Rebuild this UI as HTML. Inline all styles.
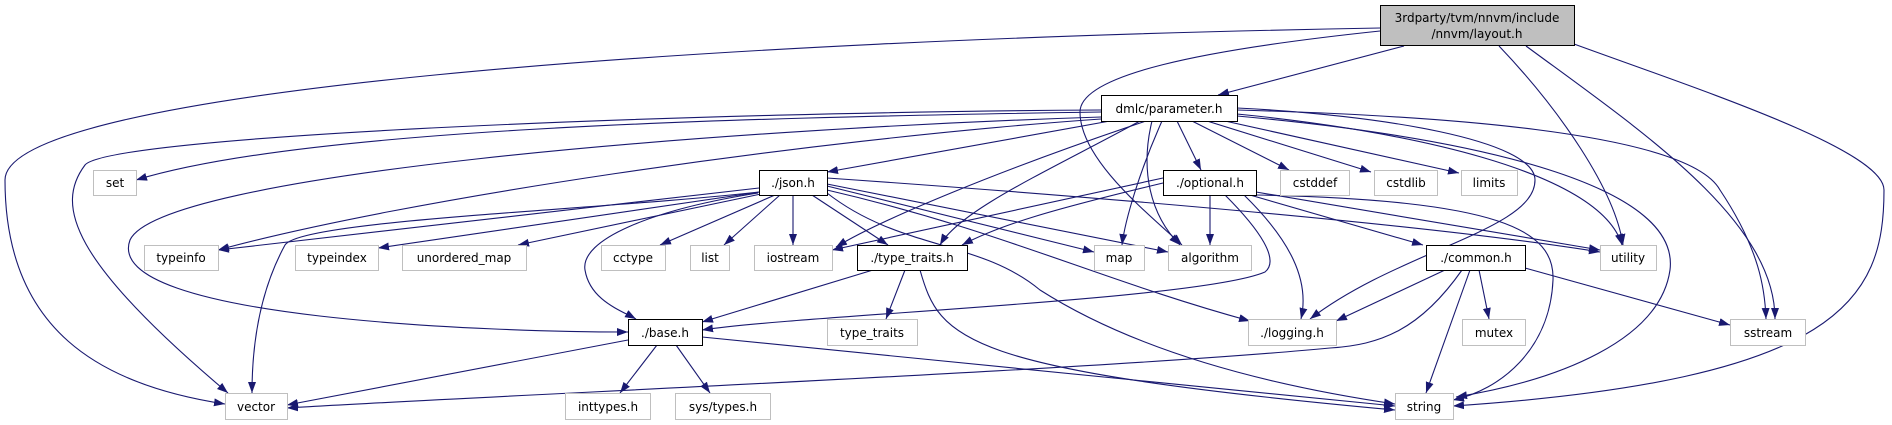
<!DOCTYPE html>
<html><head><meta charset="utf-8"><style>
html,body{margin:0;padding:0;background:#fff;}
svg{display:block;}
text{font-family:"DejaVu Sans","Liberation Sans",sans-serif;font-size:12px;fill:#000;}
</style></head><body>
<svg width="1892" height="425" viewBox="0 0 1892 425" xmlns="http://www.w3.org/2000/svg">
<defs>
<marker id="a" markerUnits="userSpaceOnUse" markerWidth="12" markerHeight="10" refX="11" refY="4" orient="auto">
<path d="M0,0 L11,4 L0,8 z" fill="#191970"/>
</marker>
</defs>
<g fill="none" stroke="#191970" stroke-width="1.1" marker-end="url(#a)">
<!-- layout -->
<path d="M1380,28 C700,40 5,90 5,180 C5,330 100,385 225,404"/>
<path d="M1404,46 L1218,95"/>
<path d="M1380,31 C1200,50 1080,75 1080,112 C1080,160 1150,215 1182,245"/>
<path d="M1499,46 C1560,110 1615,190 1623,245"/>
<path d="M1526,46 C1640,130 1775,220 1775,319"/>
<path d="M1574,44 C1700,90 1884,150 1884,190 C1884,300 1840,380 1453,406"/>
<!-- parameter -->
<path d="M1101,110 C700,112 110,135 85,165 C55,205 70,260 228,393"/>
<path d="M1101,112 C700,118 300,130 136,180"/>
<path d="M1101,117 C700,130 160,175 130,240 C100,320 500,332 628,332"/>
<path d="M1101,119 C800,140 400,200 218,250"/>
<path d="M1110,121 L827,172"/>
<path d="M1140,121 C1050,170 960,210 940,245"/>
<path d="M1146,121 C1000,170 880,220 836,247"/>
<path d="M1162,121 C1140,170 1125,220 1122,245"/>
<path d="M1152,121 C1140,170 1150,215 1180,245"/>
<path d="M1177,121 L1201,170"/>
<path d="M1192,121 L1289,170"/>
<path d="M1207,121 L1371,172"/>
<path d="M1225,121 L1459,173"/>
<path d="M1237,114 C1400,130 1600,170 1622,245"/>
<path d="M1237,108 C1380,115 1535,140 1535,180 C1535,230 1400,250 1310,319"/>
<path d="M1237,110 C1420,115 1687,130 1720,190 C1760,250 1765,290 1766,319"/>
<path d="M1237,116 C1500,140 1680,190 1670,270 C1660,340 1560,380 1456,397"/>
<!-- json -->
<path d="M759,188 L218,250"/>
<path d="M759,192 C600,210 300,220 285,245 C255,300 252,360 252,393"/>
<path d="M760,192 L378,248"/>
<path d="M761,194 L518,245"/>
<path d="M758,193 C650,210 580,240 585,270 C590,300 620,310 636,319"/>
<path d="M775,195 L660,245"/>
<path d="M780,195 L724,245"/>
<path d="M793,195 L793,245"/>
<path d="M812,195 L888,245"/>
<path d="M827,186 L1094,252"/>
<path d="M827,184 L1168,252"/>
<path d="M827,178 C1000,190 1400,220 1600,252"/>
<path d="M827,190 C1000,230 1100,280 1250,321"/>
<path d="M827,193 C900,250 980,240 1040,290 C1150,360 1300,390 1395,404"/>
<!-- optional -->
<path d="M1163,178 L832,250"/>
<path d="M1163,183 C1050,210 1000,225 962,245"/>
<path d="M1225,195 C1260,230 1280,260 1265,272 C1200,300 800,315 702,330"/>
<path d="M1210,195 L1210,245"/>
<path d="M1244,195 C1290,240 1310,280 1301,319"/>
<path d="M1250,195 L1423,245"/>
<path d="M1256,192 L1600,250"/>
<path d="M1256,195 C1500,200 1555,230 1553,280 C1550,350 1500,390 1453,400"/>
<!-- type_traits.h -->
<path d="M873,270 L702,322"/>
<path d="M905,270 L886,319"/>
<path d="M920,270 C940,340 960,370 1395,410"/>
<!-- base -->
<path d="M628,340 L287,405"/>
<path d="M657,345 L620,393"/>
<path d="M676,345 L710,393"/>
<path d="M702,337 L1395,406"/>
<!-- common -->
<path d="M1445,270 L1336,321"/>
<path d="M1462,270 C1420,330 1380,345 1330,348 C1100,370 500,395 287,408"/>
<path d="M1470,270 L1426,393"/>
<path d="M1479,270 L1489,319"/>
<path d="M1525,268 L1730,325"/>
</g>
<g stroke-width="1">
<rect x="1380.5" y="5.5" width="194" height="40" fill="#bfbfbf" stroke="#000"/>
<text x="1477" y="22" text-anchor="middle">3rdparty/tvm/nnvm/include</text>
<text x="1477" y="38" text-anchor="middle">/nnvm/layout.h</text>
<g fill="#fff" stroke="#000">
<rect x="1101.5" y="95.5" width="136" height="26"/>
<rect x="759.5" y="170.5" width="68" height="25"/>
<rect x="1163.5" y="170.5" width="93" height="25"/>
<rect x="857.5" y="245.5" width="110" height="25"/>
<rect x="1426.5" y="245.5" width="99" height="25"/>
<rect x="628.5" y="319.5" width="74" height="26"/>
</g>
<g fill="#fff" stroke="#bfbfbf">
<rect x="93.5" y="170.5" width="43" height="25"/>
<rect x="1280.5" y="170.5" width="69" height="25"/>
<rect x="1374.5" y="170.5" width="63" height="25"/>
<rect x="1461.5" y="170.5" width="56" height="25"/>
<rect x="144.5" y="245.5" width="74" height="25"/>
<rect x="295.5" y="245.5" width="83" height="25"/>
<rect x="402.5" y="245.5" width="124" height="25"/>
<rect x="601.5" y="245.5" width="64" height="25"/>
<rect x="690.5" y="245.5" width="39" height="25"/>
<rect x="754.5" y="245.5" width="78" height="25"/>
<rect x="1094.5" y="245.5" width="50" height="25"/>
<rect x="1168.5" y="245.5" width="83" height="25"/>
<rect x="1600.5" y="245.5" width="56" height="25"/>
<rect x="827.5" y="319.5" width="90" height="26"/>
<rect x="1248.5" y="319.5" width="88" height="26"/>
<rect x="1462.5" y="319.5" width="63" height="26"/>
<rect x="1730.5" y="319.5" width="75" height="26"/>
<rect x="225.5" y="393.5" width="62" height="26"/>
<rect x="565.5" y="393.5" width="85" height="26"/>
<rect x="675.5" y="393.5" width="95" height="26"/>
<rect x="1395.5" y="393.5" width="58" height="26"/>
</g>
</g>
<g text-anchor="middle">
<text x="1169" y="113">dmlc/parameter.h</text>
<text x="793" y="187">./json.h</text>
<text x="1210" y="187">./optional.h</text>
<text x="912" y="262">./type_traits.h</text>
<text x="1476" y="262">./common.h</text>
<text x="665" y="337">./base.h</text>
<text x="115" y="187" fill="#000">set</text>
<text x="1315" y="187">cstddef</text>
<text x="1406" y="187">cstdlib</text>
<text x="1489" y="187">limits</text>
<text x="181" y="262">typeinfo</text>
<text x="337" y="262">typeindex</text>
<text x="464" y="262">unordered_map</text>
<text x="633" y="262">cctype</text>
<text x="710" y="262">list</text>
<text x="793" y="262">iostream</text>
<text x="1119" y="262">map</text>
<text x="1210" y="262">algorithm</text>
<text x="1628" y="262">utility</text>
<text x="872" y="337">type_traits</text>
<text x="1292" y="337">./logging.h</text>
<text x="1494" y="337">mutex</text>
<text x="1768" y="337">sstream</text>
<text x="256" y="411">vector</text>
<text x="608" y="411">inttypes.h</text>
<text x="723" y="411">sys/types.h</text>
<text x="1424" y="411">string</text>
</g>
</svg>
</body></html>
